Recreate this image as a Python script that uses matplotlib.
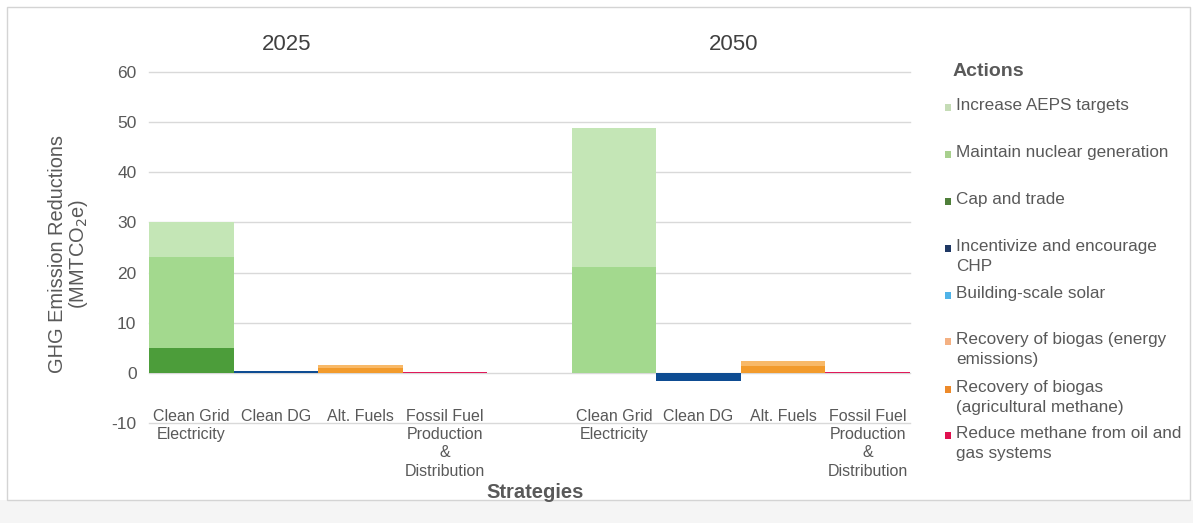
import matplotlib
matplotlib.use('Agg')
import matplotlib.pyplot as plt
from matplotlib.patches import Rectangle
import numpy as np

plt.rcParams['font.family'] = ['Liberation Sans', 'DejaVu Sans']

# ---------------- data ----------------
years = ['2025', '2050']
strategies = ['Clean Grid\nElectricity', 'Clean DG', 'Alt. Fuels',
              'Fossil Fuel\nProduction\n&\nDistribution']
actions = ['Increase AEPS targets', 'Maintain nuclear generation', 'Cap and trade',
           'Incentivize and encourage\nCHP', 'Building-scale solar',
           'Recovery of biogas (energy\nemissions)',
           'Recovery of biogas\n(agricultural methane)',
           'Reduce methane from oil and\ngas systems']

# values per strategy [Clean Grid, Clean DG, Alt. Fuels, Fossil Fuel]
aeps_2025 = [6.8, 0, 0, 0]
aeps_2050 = [27.6, 0, 0, 0]
nuclear_2025 = [18.2, 0, 0, 0]
nuclear_2050 = [21.2, 0, 0, 0]
cap_trade_2025 = [5.0, 0, 0, 0]
cap_trade_2050 = [0, 0, 0, 0]
chp_2025 = [0, 0.4, 0, 0]
chp_2050 = [0, -1.6, 0, 0]
solar_2025 = [0, 0, 0, 0]
solar_2050 = [0, 0, 0, 0]
biogas_energy_2025 = [0, 0, 0.6, 0]
biogas_energy_2050 = [0, 0, 1.0, 0]
biogas_ag_2025 = [0, 0, 0.9, 0]
biogas_ag_2050 = [0, 0, 1.4, 0]
methane_2025 = [0, 0, 0, 0.2]
methane_2050 = [0, 0, 0, 0.2]

y_ticks = [-10, 0, 10, 20, 30, 40, 50, 60]

# ---------------- styles ----------------
bar_colors = ['#c4e6b6', '#a3d98e', '#4c9d3a', '#0e4c92', '#4fb3e8',
              '#f8b968', '#f29b2c', '#e0195a']
legend_colors = ['#c5dcb6', '#a8d08e', '#4f7f3a', '#1f3864', '#4fb3e8',
                 '#f4b183', '#ed8a2a', '#e0104f']

series_2025 = [aeps_2025, nuclear_2025, cap_trade_2025, chp_2025, solar_2025,
               biogas_energy_2025, biogas_ag_2025, methane_2025]
series_2050 = [aeps_2050, nuclear_2050, cap_trade_2050, chp_2050, solar_2050,
               biogas_energy_2050, biogas_ag_2050, methane_2050]
stack_order = [2, 1, 0, 3, 4, 6, 5, 7]  # bottom-to-top

W, H = 1193, 523
fig = plt.figure(figsize=(W / 100, H / 100), dpi=100)
fig.patch.set_facecolor('white')

def px(x, y):
    return x / W, 1 - y / H

# frame and bottom band
fig.patches.append(Rectangle(px(0, 523), 1, 23 / H, transform=fig.transFigure,
                             facecolor='#f5f5f5', edgecolor='none', zorder=-2))
fig.patches.append(Rectangle(px(7, 500), (1190 - 7) / W, (500 - 7) / H,
                             transform=fig.transFigure, facecolor='white',
                             edgecolor='#d4d4d4', linewidth=1.0, zorder=-1))

ax = fig.add_axes([149 / W, 1 - 423 / H, (910 - 149) / W, (423 - 72) / H])
ax.set_zorder(2)
ax.set_facecolor('none')
ax.set_xlim(-0.5, 8.5)
ax.set_ylim(-10, 60)

for g, series in enumerate([series_2025, series_2050]):
    xs = np.arange(4) + g * 5
    pos = np.zeros(4)
    neg = np.zeros(4)
    for i in stack_order:
        vals = np.array(series[i], dtype=float)
        bottoms = np.where(vals >= 0, pos, neg)
        ax.bar(xs, vals, bottom=bottoms, width=1.0, color=bar_colors[i],
               edgecolor='none', zorder=3)
        pos += np.where(vals >= 0, vals, 0)
        neg += np.where(vals < 0, vals, 0)

for t in y_ticks:
    ax.axhline(t, color='#d9d9d9', linewidth=1.0, zorder=1, clip_on=False)

ax.set_yticks(y_ticks)
ax.set_yticklabels([str(t) for t in y_ticks], fontsize=12.5, color='#595959')
ax.tick_params(axis='y', length=0, pad=9)
ax.set_xticks([])
for s in ax.spines.values():
    s.set_visible(False)

# category labels
for g in range(2):
    for k, lab in enumerate(strategies):
        ax.text(k + g * 5, -7.2, lab, ha='center', va='top', fontsize=11.5,
                color='#595959', linespacing=1.27, clip_on=False)

# year labels
ax.text(1.13, 65.5, years[0], ha='center', va='center', fontsize=16,
        color='#404040', clip_on=False)
ax.text(6.41, 65.5, years[1], ha='center', va='center', fontsize=16,
        color='#404040', clip_on=False)

# axis titles
fig.text(*px(69, 254), 'GHG Emission Reductions\n(MMTCO$_2$e)', rotation=90,
         ha='center', va='center', multialignment='center', fontsize=14.4,
         color='#595959', linespacing=1.05)
fig.text(*px(535, 492), 'Strategies', ha='center', va='center', fontsize=14.5,
         fontweight='bold', color='#595959')

# legend
fig.text(*px(953, 72), 'Actions', ha='left', va='center', fontsize=14,
         fontweight='bold', color='#595959')
legend_y = [107, 154, 201, 248, 295, 341, 389, 435]
for lab, col, y in zip(actions, legend_colors, legend_y):
    fig.patches.append(Rectangle(px(945, y + 3.5), 6 / W, 7 / H,
                                 transform=fig.transFigure, facecolor=col,
                                 edgecolor='none'))
    fig.text(*px(956, y - 9), lab, ha='left', va='top', fontsize=12.3,
             color='#595959', linespacing=1.38)

fig.savefig('out.png', dpi=100, facecolor='white')
